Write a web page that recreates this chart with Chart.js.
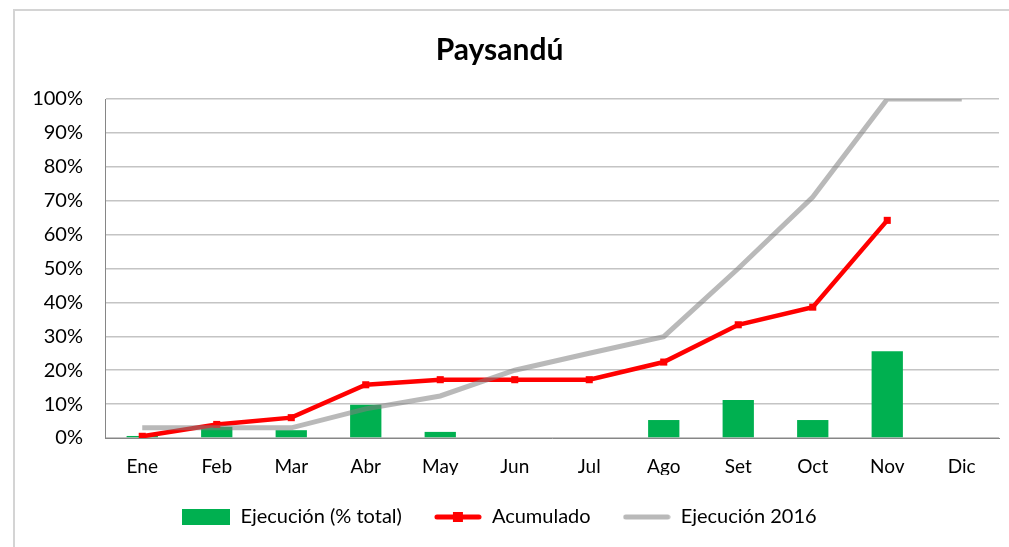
<!DOCTYPE html>
<html>
<head>
<meta charset="utf-8">
<script src="https://cdn.jsdelivr.net/npm/chart.js@4"></script>
<style>
html,body{margin:0;padding:0;background:#fff;}
#wrap{width:1009px;height:547px;}
</style>
</head>
<body>
<div id="wrap"><canvas id="c" width="1009" height="547"></canvas></div>
<script>
const categories = ['Ene','Feb','Mar','Abr','May','Jun','Jul','Ago','Set','Oct','Nov','Dic'];
const ejecucion = [0.6, 3.3, 2.3, 9.8, 1.8, 0, 0, 5.3, 11.2, 5.3, 25.6, null];
const acumulado = [0.5, 4.0, 6.0, 15.7, 17.2, 17.2, 17.2, 22.4, 33.4, 38.6, 64.2, null];
const ejecucion2016 = [3.0, 3.0, 3.0, 8.6, 12.4, 20.0, 25.0, 29.9, 50.0, 71.1, 100, 100];
const yTicks = [0,10,20,30,40,50,60,70,80,90,100];
const seriesNames = ['Ejecución (% total)', 'Acumulado', 'Ejecución 2016'];

const GREEN = '#00b050', RED = '#ff0000', GRAY = 'rgba(128,128,128,0.55)';
const FONT = 'Lato, "Open Sans", sans-serif';

function icon(kind){
  const c = document.createElement('canvas');
  c.width = 48; c.height = 16;
  const g = c.getContext('2d');
  if (kind === 0){ g.fillStyle = GREEN; g.fillRect(0,0,48,16); }
  else if (kind === 1){
    g.strokeStyle = RED; g.lineWidth = 5; g.lineCap='round';
    g.beginPath(); g.moveTo(3,8); g.lineTo(45,8); g.stroke();
    g.fillStyle = RED; g.fillRect(19,3,10,10);
  } else {
    g.strokeStyle = '#b9b9b9'; g.lineWidth = 5; g.lineCap='round';
    g.beginPath(); g.moveTo(3,8); g.lineTo(45,8); g.stroke();
  }
  return c;
}
const icons = [icon(0), icon(1), icon(2)];

const framePlugin = {
  id:'frame',
  beforeDraw(chart){
    const ctx = chart.ctx;
    ctx.save();
    ctx.strokeStyle = '#d4d4d4'; ctx.lineWidth = 2;
    ctx.beginPath();
    ctx.moveTo(14, 547); ctx.lineTo(14, 10); ctx.lineTo(1009, 10);
    ctx.stroke();
    ctx.restore();
  }
};

new Chart(document.getElementById('c'), {
  type:'bar',
  data:{
    labels: categories,
    datasets:[
      {type:'bar', label: seriesNames[0], data: ejecucion, backgroundColor: GREEN,
       barPercentage:0.42, categoryPercentage:1, order:2},
      {type:'line', label: seriesNames[1], data: acumulado, borderColor: RED, backgroundColor: RED,
       borderWidth:4.5, tension:0, pointStyle:'rect', pointRadius:5, pointBorderWidth:0,
       pointBackgroundColor: RED, order:1},
      {type:'line', label: seriesNames[2], data: ejecucion2016, borderColor: GRAY, backgroundColor: GRAY,
       borderWidth:5, tension:0, pointRadius:0, order:0}
    ]
  },
  options:{
    responsive:false,
    animation:false,
    layout:{padding:{left:0,right:10,top:0,bottom:10}},
    plugins:{
      title:{display:true, text:'Paysandú', color:'#000',
        font:{family:FONT, size:30, weight:'bold'}, padding:{top:32,bottom:31}},
      legend:{position:'bottom',
        labels:{
          color:'#000', font:{family:FONT, size:20},
          usePointStyle:true, pointStyleWidth:48, boxHeight:16, padding:32,
          sort:(a,b)=>a.datasetIndex-b.datasetIndex,
          generateLabels(chart){
            const items = Chart.defaults.plugins.legend.labels.generateLabels(chart);
            items.forEach(it=>{ it.pointStyle = icons[it.datasetIndex]; });
            return items;
          }
        }},
      tooltip:{enabled:false}
    },
    scales:{
      x:{
        grid:{display:false, drawTicks:false},
        border:{color:'#868686', width:1},
        ticks:{color:'#000', font:{family:FONT, size:19}, padding:17},
        afterFit(s){ s.height = 37; }
      },
      y:{
        min:0, max:100,
        afterBuildTicks(s){ s.ticks = yTicks.map(v=>({value:v})); },
        grid:{color:'#c4c4c4', lineWidth:1.5, drawTicks:false},
        border:{color:'#868686', width:1},
        ticks:{color:'#000', font:{family:FONT, size:20}, padding:22, callback:v=>v+'%'},
        afterFit(s){ s.width = 105; }
      }
    }
  },
  plugins:[framePlugin]
});
</script>
</body>
</html>
